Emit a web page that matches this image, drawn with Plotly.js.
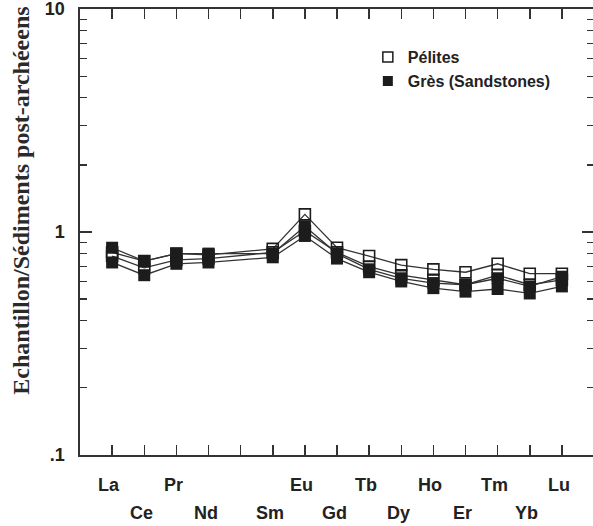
<!DOCTYPE html>
<html>
<head>
<meta charset="utf-8">
<script src="https://cdn.plot.ly/plotly-3.0.1.min.js"></script>
<style>
html, body { margin:0; padding:0; overflow:hidden; background:#fff; }
#chart { width:595px; height:526px; }
</style>
</head>
<body>
<div id="chart"></div>
<script>
// REE sequence (Pm has a tick but no data)
const elements = ['La','Ce','Pr','Nd','Pm','Sm','Eu','Gd','Tb','Dy','Ho','Er','Tm','Yb','Lu'];
const dataElements = ['La','Ce','Pr','Nd','Sm','Eu','Gd','Tb','Dy','Ho','Er','Tm','Yb','Lu'];
const upperLabels = ['La','Pr','Eu','Tb','Ho','Tm','Lu'];
const lowerLabels = ['Ce','Nd','Sm','Gd','Dy','Er','Yb'];

// Pélites (open squares)
const peliteA = [0.81, 0.74, 0.80, 0.79, 0.84, 1.20, 0.85, 0.78, 0.71, 0.68, 0.66, 0.72, 0.65, 0.65];
const peliteB = [0.78, 0.69, 0.75, 0.76, 0.81, 1.01, 0.81, 0.70, 0.64, 0.61, 0.58, 0.64, 0.58, 0.61];
// Grès (filled squares)
const gresA = [0.85, 0.74, 0.80, 0.80, 0.80, 1.06, 0.80, 0.68, 0.62, 0.59, 0.58, 0.62, 0.57, 0.63];
const gresB = [0.73, 0.64, 0.72, 0.73, 0.77, 0.96, 0.76, 0.66, 0.60, 0.56, 0.54, 0.555, 0.53, 0.57];

const yTickVals = [0.1, 1, 10];
const yTickText = ['.1', '1', '10'];
const yMinor = [0.2,0.3,0.4,0.5,0.6,0.7,0.8,0.9,2,3,4,5,6,7,8,9];

const legendNames = ['Pélites', 'Grès (Sandstones)'];
const yTitle = 'Echantillon/Sédiments post-archéeens';

const xPos = dataElements.map(e => elements.indexOf(e) + 1);
const allPos = elements.map((e, i) => i + 1);

const ink = '#1c1c1c';
const lineCol = '#333333';

function openTrace(y) {
  return {x: xPos, y: y, type: 'scatter', mode: 'lines+markers', showlegend: false,
    line: {color: lineCol, width: 1.3},
    marker: {symbol: 'square-open', size: 11, color: ink, line: {width: 1.6, color: ink}}};
}
function filledTrace(y) {
  return {x: xPos, y: y, type: 'scatter', mode: 'lines+markers', showlegend: false,
    line: {color: lineCol, width: 1.3},
    marker: {symbol: 'square', size: 12, color: ink, line: {width: 0}}};
}

const traces = [
  openTrace(peliteA), openTrace(peliteB),
  filledTrace(gresA), filledTrace(gresB),
  {x: [null], y: [null], type: 'scatter', mode: 'markers', name: legendNames[0],
   marker: {symbol: 'square-open', size: 10, color: ink, line: {width: 1.5, color: ink}}},
  {x: [null], y: [null], type: 'scatter', mode: 'markers', name: legendNames[1],
   marker: {symbol: 'square', size: 10, color: ink}}
];

const labelFont = {family: 'Liberation Sans, Arial, sans-serif', size: 18, color: '#222', weight: 700};
const annotations = [];
upperLabels.forEach(l => annotations.push({x: elements.indexOf(l) + 1, y: -0.067, xref: 'x', yref: 'paper',
  text: l, showarrow: false, xanchor: 'center', yanchor: 'middle', xshift: -3, font: labelFont}));
lowerLabels.forEach(l => annotations.push({x: elements.indexOf(l) + 1, y: -0.13, xref: 'x', yref: 'paper',
  text: l, showarrow: false, xanchor: 'center', yanchor: 'middle', xshift: -3, font: labelFont}));
annotations.push({x: -0.115, y: 0.570, xref: 'paper', yref: 'paper', text: yTitle, textangle: -90,
  showarrow: false, xanchor: 'center', yanchor: 'middle',
  font: {family: 'Liberation Serif, Times New Roman, serif', size: 24, color: '#2a2a2a', weight: 700}});

const layout = {
  width: 595, height: 526,
  margin: {l: 80, r: 1, t: 9, b: 71},
  paper_bgcolor: '#fff', plot_bgcolor: '#fff',
  showlegend: true,
  legend: {x: 0.56, y: 0.93, xanchor: 'left', yanchor: 'top', bgcolor: 'rgba(0,0,0,0)',
    font: {family: 'Liberation Sans, Arial, sans-serif', size: 16, color: '#222', weight: 700},
    tracegroupgap: 0, itemclick: false},
  xaxis: {range: [0, 16], tickmode: 'array', tickvals: allPos, showticklabels: false,
    ticks: 'inside', ticklen: 10, tickwidth: 1.5, tickcolor: '#333',
    showline: true, linewidth: 1.6, linecolor: '#333', mirror: 'ticks',
    showgrid: false, zeroline: false},
  yaxis: {type: 'log', range: [-1.0005, 1.0005], tickmode: 'array', tickvals: yTickVals, ticktext: yTickText,
    ticks: 'inside', ticklen: 12, tickwidth: 1.5, tickcolor: '#333',
    minor: {tickmode: 'array', tickvals: yMinor, ticks: 'inside', ticklen: 7, tickwidth: 1.3, tickcolor: '#333', showgrid: false},
    showline: true, linewidth: 1.6, linecolor: '#333', mirror: 'ticks',
    showgrid: false, zeroline: false, ticklabelstandoff: 10, ticklabeloverflow: 'allow',
    tickfont: {family: 'Liberation Sans, Arial, sans-serif', size: 18, color: '#222', weight: 700}},
  annotations: annotations
};

Plotly.newPlot('chart', traces, layout, {displayModeBar: false, staticPlot: true});
</script>
</body>
</html>
